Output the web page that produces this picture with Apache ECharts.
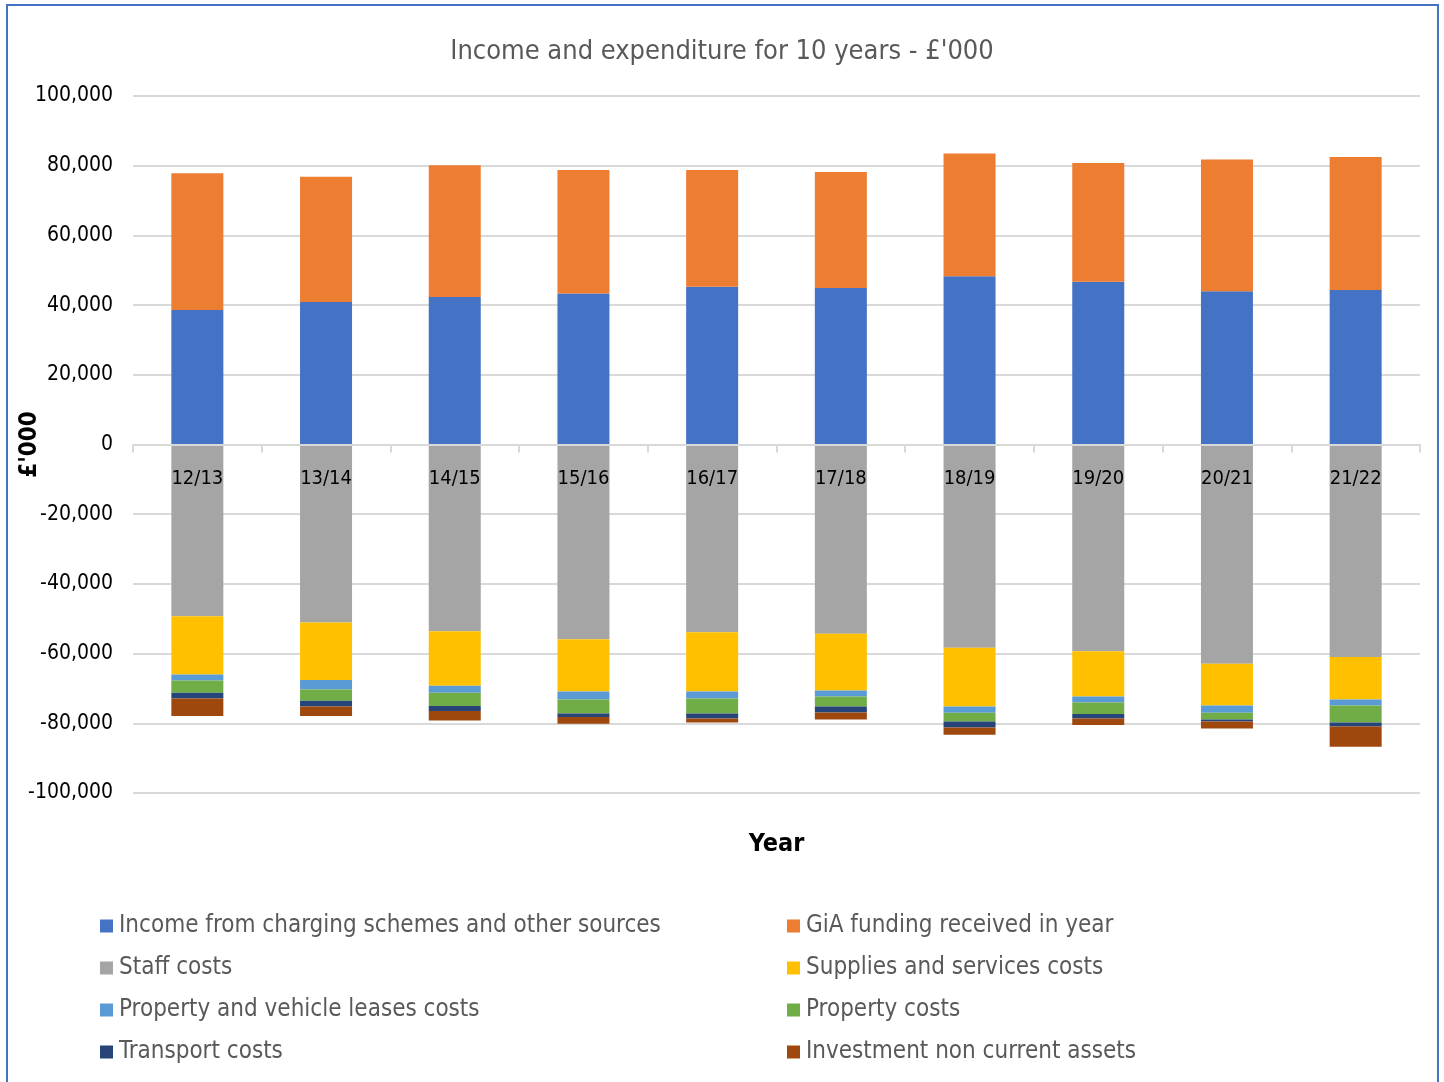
<!DOCTYPE html>
<html>
<head>
<meta charset="utf-8">
<script src="https://cdn.jsdelivr.net/npm/echarts@6/dist/echarts.min.js"></script>
<style>
  html, body { margin: 0; padding: 0; background: #fff; }
  #chart-div { width: 1444px; height: 1082px; }
</style>
</head>
<body>
<div id="chart-div"></div>
<script>
const years = ['12/13', '13/14', '14/15', '15/16', '16/17', '17/18', '18/19', '19/20', '20/21', '21/22']

// tulot (£'000)
const income = [38600, 40900, 42300, 43300, 45300, 44900, 48300, 46700, 44000, 44300]
const gia = [39200, 35900, 37800, 35500, 33500, 33300, 35200, 34100, 37800, 38200]

// menot (£'000), negatiivisina
const staff = [-49300, -51100, -53600, -55900, -53900, -54300, -58300, -59300, -62900, -61000]
const supplies = [-16700, -16500, -15600, -15000, -17000, -16300, -16900, -13000, -12000, -12200]
const leases = [-1700, -2700, -2000, -2300, -2000, -1700, -1800, -1700, -2100, -1700]
const property = [-3500, -3200, -3800, -4000, -4300, -2900, -2500, -3300, -1900, -4900]
const transport = [-1700, -1700, -1500, -1000, -1400, -1700, -1700, -1300, -600, -1100]
const investment = [-5000, -2700, -2700, -1900, -1200, -2000, -2100, -1900, -2000, -5800]

const yTicks = [-100000, 100000, 20000] // min, max, väli

// valitaan kapein asennettu fontti (Calibria muistuttava)
function hasFont(name) {
    const ctx = document.createElement('canvas').getContext('2d')
    const s = 'Income and expenditure WWW mmm 0123'
    ctx.font = '40px monospace'
    const base = ctx.measureText(s).width
    ctx.font = "40px '" + name + "', monospace"
    return ctx.measureText(s).width !== base
}
const narrow = ['Liberation Sans Narrow', 'DejaVu Sans Condensed', 'Liberation Sans'].find(hasFont) || 'sans-serif'
const font = "'" + narrow + "', sans-serif"

const seriesDefs = [
    ['Income from charging schemes and other sources', income, '#4472C4'],
    ['GiA funding received in year', gia, '#ED7D31'],
    ['Staff costs', staff, '#A5A5A5'],
    ['Supplies and services costs', supplies, '#FFC000'],
    ['Property and vehicle leases costs', leases, '#5B9BD5'],
    ['Property costs', property, '#70AD47'],
    ['Transport costs', transport, '#264478'],
    ['Investment non current assets', investment, '#9E480E']
]

let myChart = echarts.init(document.getElementById('chart-div'))

const gridTop = 96
const gridHeight = 697

const option = {
    animation: false,
    textStyle: { fontFamily: font },
    graphic: [{
        type: 'rect',
        shape: { x: 7, y: 5, width: 1431, height: 1100 },
        style: { fill: 'none', stroke: '#4472C4', lineWidth: 2 },
        silent: true
    }],
    title: {
        text: "Income and expenditure for 10 years - £'000",
        left: 'center',
        top: 33,
        textStyle: { fontFamily: font, fontSize: 27, fontWeight: 'normal', color: '#595959' }
    },
    legend: {
        orient: 'horizontal',
        left: 95,
        top: 905,
        width: 1380,
        itemWidth: 13,
        itemHeight: 13,
        itemGap: 10,
        icon: 'rect',
        selectedMode: false,
        textStyle: { fontFamily: font, fontSize: 24, color: '#595959', width: 658, lineHeight: 32, padding: [0, 0, 0, 1] }
    },
    grid: { left: 133, right: 24, top: gridTop, height: gridHeight, containLabel: false, outerBoundsMode: 'none' },
    xAxis: {
        type: 'category',
        data: years,
        z: 10,
        offset: -gridHeight / 2, // akseli nollan kohdalle
        name: 'Year',
        nameLocation: 'middle',
        nameGap: 387,
        nameMoveOverlap: false,
        nameTextStyle: { fontFamily: font, fontSize: 25, fontWeight: 'bold', color: '#000' },
        axisLine: { onZero: false, lineStyle: { color: '#d9d9d9', width: 2 } },
        axisTick: { show: true, length: 8, lineStyle: { color: '#d9d9d9', width: 2 } },
        axisLabel: { fontFamily: font, fontSize: 20, color: '#000', margin: 24 }
    },
    yAxis: {
        type: 'value',
        min: yTicks[0],
        max: yTicks[1],
        interval: yTicks[2],
        name: "£'000",
        nameLocation: 'middle',
        nameGap: 91,
        nameMoveOverlap: false,
        nameRotate: 90,
        nameTextStyle: { fontFamily: font, fontSize: 24, fontWeight: 'bold', color: '#000' },
        axisLine: { show: false },
        axisTick: { show: false },
        splitLine: { lineStyle: { color: '#d9d9d9', width: 2 } },
        axisLabel: {
            fontFamily: font, fontSize: 21, color: '#000', margin: 20,
            formatter: v => v.toLocaleString('en-GB')
        }
    },
    series: seriesDefs.map(([name, data, color]) => ({
        name: name,
        type: 'bar',
        stack: 'total',
        data: data,
        barWidth: 52,
        itemStyle: { color: color }
    }))
}

myChart.setOption(option)
</script>
</body>
</html>
